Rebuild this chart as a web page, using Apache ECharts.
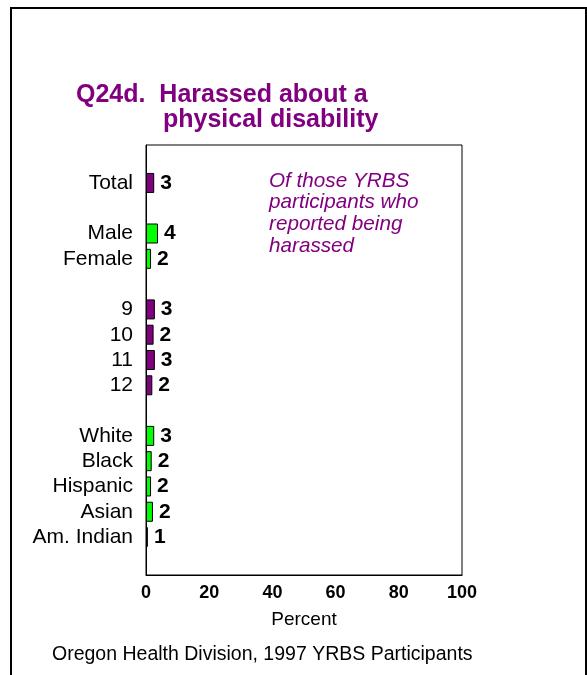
<!DOCTYPE html>
<html>
<head>
<meta charset="utf-8">
<script src="https://cdn.jsdelivr.net/npm/echarts@6/dist/echarts.min.js"></script>
<style>
html,body{margin:0;padding:0;background:#fff;}
#chart{width:587px;height:675px;}
</style>
</head>
<body>
<div id="chart"></div>
<script>
// ---- data ----
var groupTotal = ['Total'];
var groupSex = ['Male', 'Female'];
var groupGrade = ['9', '10', '11', '12'];
var groupRace = ['White', 'Black', 'Hispanic', 'Asian', 'Am. Indian'];

var valuesTotal = [2.6];
var valuesSex = [3.8, 1.6];
var valuesGrade = [2.8, 2.4, 2.8, 2.0];
var valuesRace = [2.6, 1.8, 1.6, 2.2, 0.6];

var xTicks = [0, 20, 40, 60, 80, 100];

var titleLine1 = 'Q24d.  Harassed about a';
var titleLine2 = 'physical disability';
var noteLines = ['Of those YRBS', 'participants who', 'reported being', 'harassed'];
var axisName = 'Percent';
var footer = 'Oregon Health Division, 1997 YRBS Participants';

// ---- build ----
var PURPLE = '#800080', GREEN = '#00ff00';
var groups = [
  {cats: groupTotal, vals: valuesTotal, color: PURPLE},
  {cats: groupSex, vals: valuesSex, color: GREEN},
  {cats: groupGrade, vals: valuesGrade, color: PURPLE},
  {cats: groupRace, vals: valuesRace, color: GREEN}
];
var slots = [], data = [], spacer = 0;
function addSpacer(){ spacer++; slots.push(new Array(spacer + 1).join(' ')); data.push(null); }
addSpacer();
groups.forEach(function(g, gi){
  if (gi > 0) addSpacer();
  g.cats.forEach(function(c, i){
    slots.push(c);
    data.push({value: g.vals[i], itemStyle: {color: g.color}});
  });
});
addSpacer();

var FONT = '"Liberation Sans", Arial, sans-serif';
var chart = echarts.init(document.getElementById('chart'), null, {renderer: 'canvas'});
var graphics = [
  {type: 'rect', shape: {x: 11, y: 8, width: 575, height: 720}, style: {fill: 'none', stroke: '#000', lineWidth: 2}, silent: true},
  {type: 'text', x: 76, y: 95, style: {text: titleLine1, font: 'bold 25px ' + FONT, fill: PURPLE, verticalAlign: 'middle'}},
  {type: 'text', x: 163, y: 120, style: {text: titleLine2, font: 'bold 25px ' + FONT, fill: PURPLE, verticalAlign: 'middle'}},
  {type: 'text', x: 52, y: 655, style: {text: footer, font: '19.5px ' + FONT, fill: '#000', verticalAlign: 'middle'}}
];
noteLines.forEach(function(t, i){
  graphics.push({type: 'text', x: 269, y: 181 + i * 21.7, style: {text: t, font: 'italic 20.7px ' + FONT, fill: PURPLE, verticalAlign: 'middle'}});
});

chart.setOption({
  animation: false,
  backgroundColor: '#fff',
  grid: {left: 146, top: 145, right: 125, bottom: 100, show: true, borderColor: '#000', borderWidth: 1, containLabel: false},
  xAxis: {
    type: 'value', min: xTicks[0], max: xTicks[xTicks.length - 1], interval: xTicks[1] - xTicks[0],
    splitLine: {show: false}, axisTick: {show: false},
    axisLine: {show: true, lineStyle: {color: '#000'}},
    axisLabel: {color: '#000', fontFamily: FONT, fontSize: 18, fontWeight: 'bold', margin: 9},
    name: axisName, nameLocation: 'middle', nameGap: 35,
    nameTextStyle: {color: '#000', fontFamily: FONT, fontSize: 19}
  },
  yAxis: {
    type: 'category', data: slots, inverse: true,
    axisTick: {show: false},
    axisLine: {show: true, lineStyle: {color: '#000'}},
    axisLabel: {color: '#000', fontFamily: FONT, fontSize: 21, margin: 13, interval: 0}
  },
  series: [{
    type: 'bar', data: data, barWidth: 20,
    itemStyle: {borderColor: '#000', borderWidth: 1},
    label: {show: true, position: 'right', distance: 6, color: '#000', fontFamily: FONT, fontSize: 21, fontWeight: 'bold',
      formatter: function(p){ return Math.round(p.value); }}
  }],
  graphic: graphics
});
</script>
</body>
</html>
